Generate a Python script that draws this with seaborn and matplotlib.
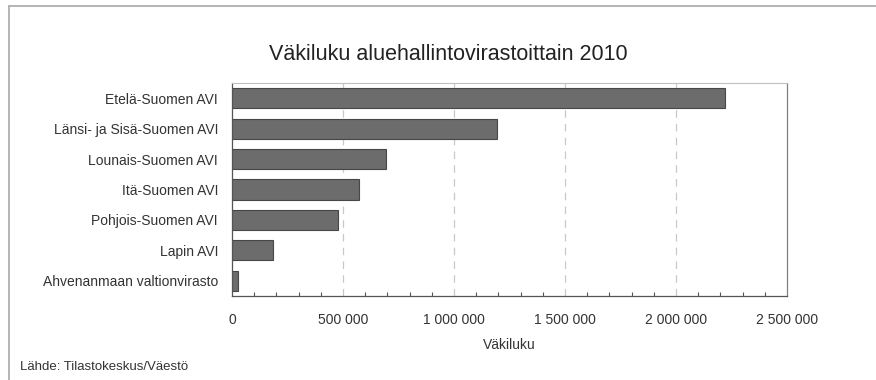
import matplotlib
matplotlib.use("Agg")
import matplotlib.pyplot as plt
from matplotlib.ticker import FuncFormatter, MultipleLocator
from matplotlib.lines import Line2D
import seaborn as sns
import pandas as pd

regions = ["Etelä-Suomen AVI", "Länsi- ja Sisä-Suomen AVI", "Lounais-Suomen AVI",
           "Itä-Suomen AVI", "Pohjois-Suomen AVI", "Lapin AVI",
           "Ahvenanmaan valtionvirasto"]
population = [2219000, 1195000, 695000, 570000, 478000, 184000, 28000]
x_ticks = [0, 500000, 1000000, 1500000, 2000000, 2500000]

title = "Väkiluku aluehallintovirastoittain 2010"
x_label = "Väkiluku"
source = "Lähde: Tilastokeskus/Väestö"

sns.set_theme(style="white")
plt.rcParams["font.family"] = ["Liberation Sans", "DejaVu Sans"]

df = pd.DataFrame({"region": regions, "population": population})

fig = plt.figure(figsize=(8.76, 3.8), dpi=100)
ax = fig.add_axes([232/876, 1-296/380, (787-232)/876, (296-83)/380])

sns.barplot(data=df, y="region", x="population", orient="h", ax=ax,
            color="#6c6c6c", edgecolor="#474747", linewidth=0.8, width=0.66,
            saturation=1)

ax.set_xlim(0, 2500000)
ax.set_ylim(6.5, -0.5)
ax.set_xticks(x_ticks)
ax.xaxis.set_minor_locator(MultipleLocator(100000))
ax.xaxis.set_major_formatter(FuncFormatter(lambda v, p: f"{int(v):,}".replace(",", " ")))
for xv in x_ticks[1:-1]:
    ax.axvline(xv, color="#c8c8c8", linestyle=(0, (6, 5)), linewidth=0.9, zorder=0)

ax.set_ylabel("")
ax.set_xlabel(x_label, fontsize=10, color="#333333", labelpad=8)
ax.tick_params(axis="y", length=0, labelsize=10, labelcolor="#333333", pad=10)
ax.tick_params(axis="x", which="major", direction="out", length=6, width=0.9,
               color="#555555", labelsize=10, labelcolor="#333333", pad=6)
ax.tick_params(axis="x", which="minor", direction="in", length=3, width=0.8,
               color="#555555", bottom=True)

for side in ["left", "bottom"]:
    ax.spines[side].set_color("#555555")
    ax.spines[side].set_linewidth(0.9)
ax.spines["right"].set_color("#808080")
ax.spines["right"].set_linewidth(0.9)
ax.spines["top"].set_color("#c0c0c0")
ax.spines["top"].set_linewidth(0.8)

fig.text(448/876, 1-55/380, title, ha="center", va="center", fontsize=15.5,
         color="#222222")
fig.text(20/876, 1-367/380, source, ha="left", va="center", fontsize=9.5,
         color="#333333")

fig.add_artist(Line2D([9/876, 1], [1-6/380, 1-6/380], color="#a8a8a8", linewidth=1.2))
fig.add_artist(Line2D([9/876, 9/876], [0, 1-6/380], color="#a8a8a8", linewidth=1.2))

fig.savefig("out.png", dpi=100, facecolor="white")
